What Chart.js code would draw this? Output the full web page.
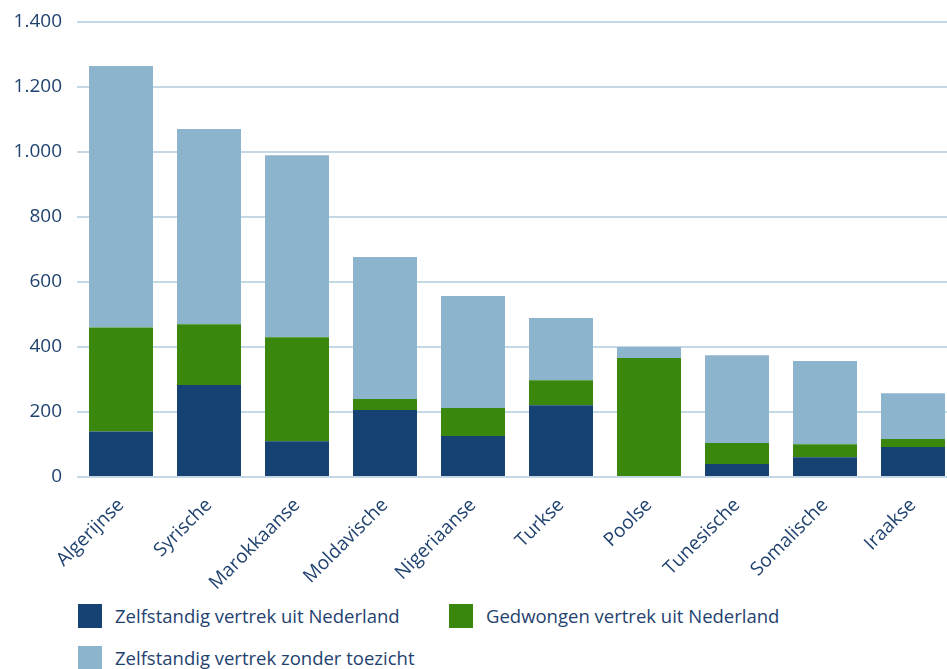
<!DOCTYPE html>
<html>
<head>
<meta charset="utf-8">
<script src="https://cdn.jsdelivr.net/npm/chart.js@4/dist/chart.umd.min.js"></script>
<style>
  body { margin: 0; background: #fff; font-family: "Open Sans", sans-serif; overflow: hidden; }
  #wrap { position: relative; width: 947px; height: 669px; overflow: hidden; }
  #myChart { position: absolute; left: 0; top: 0; }
  .leg { position: absolute; display: flex; align-items: center; font-size: 18.5px; color: #1f426f; white-space: nowrap; }
  .leg span.box { display: inline-block; width: 24px; height: 24px; margin-right: 13px; }
</style>
</head>
<body>
<div id="wrap">
  <canvas id="myChart" width="957" height="597"></canvas>
  <div class="leg" style="left:78px; top:603px;"><span class="box" style="background:#154273"></span>Zelfstandig vertrek uit Nederland</div>
  <div class="leg" style="left:449px; top:603px;"><span class="box" style="background:#39870c"></span>Gedwongen vertrek uit Nederland</div>
  <div class="leg" style="left:78px; top:645px;"><span class="box" style="background:#8db4cd"></span>Zelfstandig vertrek zonder toezicht</div>
</div>
<script>
// Nationaliteiten
const categories = ["Algerijnse", "Syrische", "Marokkaanse", "Moldavische", "Nigeriaanse",
  "Turkse", "Poolse", "Tunesische", "Somalische", "Iraakse"];

// Waarden per vertrekvorm
const zelfstandig = [140, 283, 110, 206, 126, 221, 0, 40, 61, 92];
const gedwongen = [320, 187, 320, 34, 86, 77, 366, 65, 40, 25];
const zonderToezicht = [805, 601, 560, 437, 345, 191, 34, 270, 256, 141];

const seriesLabels = ["Zelfstandig vertrek uit Nederland", "Gedwongen vertrek uit Nederland",
  "Zelfstandig vertrek zonder toezicht"];

const textColor = "#1f426f";

function formatNl(v) {
  return String(v).replace(/\B(?=(\d{3})+(?!\d))/g, ".");
}

const data = {
  labels: categories,
  datasets: [
    { label: seriesLabels[0], data: zelfstandig, backgroundColor: "#154273" },
    { label: seriesLabels[1], data: gedwongen, backgroundColor: "#39870c" },
    { label: seriesLabels[2], data: zonderToezicht, backgroundColor: "#8db4cd" },
  ],
};

const config = {
  type: "bar",
  data: data,
  options: {
    responsive: false,
    animation: false,
    layout: { padding: { top: 22, right: 0, left: 0, bottom: 0 } },
    datasets: {
      bar: { barPercentage: 0.727, categoryPercentage: 1 },
    },
    plugins: {
      legend: { display: false },
      tooltip: { enabled: false },
    },
    scales: {
      x: {
        stacked: true,
        grid: { display: false },
        border: { display: false },
        ticks: {
          color: textColor,
          font: { family: "Open Sans", size: 19 },
          maxRotation: 45,
          minRotation: 45,
          autoSkip: false,
          padding: 9,
        },
        afterFit: (s) => { s.height = 120; },
      },
      y: {
        stacked: true,
        min: 0,
        max: 1400,
        border: { display: false },
        grid: { color: "#c5d8e6", lineWidth: 2, drawTicks: false },
        ticks: {
          stepSize: 200,
          color: textColor,
          font: { family: "Open Sans", size: 19 },
          padding: 15,
          callback: (v) => formatNl(v),
        },
        afterFit: (s) => {
          s.width = 77;
          // top label may overflow; the layout padding handles it
          s.paddingTop = 0;
          s.paddingBottom = 0;
        },
      },
    },
  },
};

let myChart = new Chart(document.getElementById("myChart"), config);
</script>
</body>
</html>
